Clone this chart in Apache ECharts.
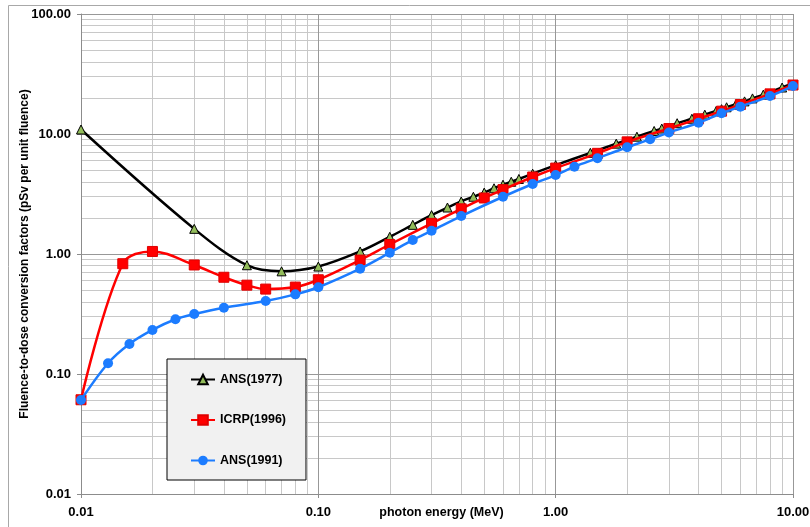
<!DOCTYPE html>
<html><head><meta charset="utf-8">
<script src="https://cdn.jsdelivr.net/npm/echarts@6/dist/echarts.min.js"></script>
<style>html,body{margin:0;padding:0;background:#fff}#c{width:810px;height:527px}</style>
</head><body><div id="c"></div>
<script>
// photon energy (MeV) and conversion factors (pSv per unit fluence)
const ans1977Energy = [0.01,0.03,0.05,0.07,0.1,0.15,0.2,0.25,0.3,0.35,0.4,0.45,0.5,0.55,0.6,0.65,0.7,0.8,1.0,1.4,1.8,2.2,2.6,2.8,3.25,3.75,4.25,4.75,5.0,5.25,5.75,6.25,6.75,7.5,9.0,11.0];
const ans1977Value  = [10.9,1.62,0.806,0.717,0.786,1.05,1.39,1.75,2.11,2.44,2.74,3.00,3.25,3.53,3.78,4.00,4.22,4.67,5.50,6.97,8.31,9.50,10.6,11.1,12.3,13.4,14.5,15.6,16.1,16.7,17.7,18.7,19.8,21.3,24.4,28.6];
const icrp1996Energy = [0.01,0.015,0.02,0.03,0.04,0.05,0.06,0.08,0.1,0.15,0.2,0.3,0.4,0.5,0.6,0.8,1,1.5,2,3,4,5,6,8,10];
const icrp1996Value  = [0.061,0.83,1.05,0.81,0.64,0.55,0.51,0.53,0.61,0.89,1.20,1.80,2.38,2.93,3.44,4.38,5.20,6.90,8.60,11.1,13.4,15.5,17.6,21.6,25.6];
const ans1991Energy = [0.01,0.013,0.016,0.02,0.025,0.03,0.04,0.06,0.08,0.1,0.15,0.2,0.25,0.3,0.4,0.6,0.8,1.0,1.2,1.5,2,2.5,3,4,5,6,8,10];
const ans1991Value  = [0.0607,0.123,0.178,0.233,0.286,0.316,0.357,0.406,0.461,0.528,0.754,1.025,1.31,1.56,2.07,3.0,3.83,4.55,5.34,6.28,7.75,9.03,10.3,12.4,14.9,16.9,20.7,25.1];
const seriesNames = ['ANS(1977)','ICRP(1996)','ANS(1991)'];
const xDecades = [0.01,0.1,1];
const yDecades = [0.01,0.1,1,10];
const minorMultipliers = [2,3,4,5,6,7,8,9];

const FONT = '"Liberation Sans", Arial, sans-serif';
const pair = (xs, ys) => xs.map((x, i) => [x, ys[i]]);
const xMinor = [], yMinor = [];
xDecades.forEach(d => minorMultipliers.forEach(m => xMinor.push(+(d*m).toPrecision(3))));
yDecades.forEach(d => minorMultipliers.forEach(m => yMinor.push(+(d*m).toPrecision(3))));

const chart = echarts.init(document.getElementById('c'), null, {renderer: 'canvas'});
chart.setOption({
  animation: false,
  backgroundColor: '#ffffff',
  textStyle: {fontFamily: FONT},
  graphic: [{
    type: 'rect', z: 0, silent: true,
    shape: {x: 8.5, y: 5.5, width: 840, height: 560},
    style: {fill: 'none', stroke: '#a8a8a8', lineWidth: 1}
  }],
  grid: {left: 81, right: 17, top: 14, bottom: 33, containLabel: false, outerBoundsMode: 'none'},
  legend: {
    data: seriesNames,
    orient: 'vertical',
    left: 167, top: 359,
    itemWidth: 24, itemHeight: 12, itemGap: 27.5,
    padding: [14, 20, 13, 23],
    backgroundColor: '#f1f1f1',
    borderColor: '#000000', borderWidth: 1,
    textStyle: {fontFamily: FONT, fontWeight: 'bold', fontSize: 12.5, color: '#000'},
    z: 20
  },
  xAxis: {
    type: 'log', logBase: 10, min: 0.01, max: 10, z: 2,
    name: 'photon energy (MeV)', nameLocation: 'middle', nameGap: 12, nameMoveOverlap: false,
    nameTextStyle: {fontFamily: FONT, fontWeight: 'bold', fontSize: 12.5, color: '#000', padding: [0,0,0,9]},
    axisLine: {show: true, lineStyle: {color: '#8c8c8c', width: 1}},
    axisTick: {show: true, inside: false, length: 4, lineStyle: {color: '#8c8c8c'}},
    axisLabel: {margin: 12, fontFamily: FONT, fontWeight: 'bold', fontSize: 13, color: '#000',
      formatter: v => Number(v).toFixed(2)},
    splitLine: {show: true, lineStyle: {color: '#989898', width: 1}}
  },
  yAxis: {
    type: 'log', logBase: 10, min: 0.01, max: 100, z: 2,
    name: 'Fluence-to-dose conversion factors (pSv per unit fluence)',
    nameLocation: 'middle', nameGap: 50, nameRotate: 90, nameMoveOverlap: false,
    nameTextStyle: {fontFamily: FONT, fontWeight: 'bold', fontSize: 12, color: '#000'},
    axisLine: {show: true, lineStyle: {color: '#8c8c8c', width: 1}},
    axisTick: {show: true, inside: false, length: 4, lineStyle: {color: '#8c8c8c'}},
    axisLabel: {margin: 10, fontFamily: FONT, fontWeight: 'bold', fontSize: 13, color: '#000',
      formatter: v => Number(v).toFixed(2)},
    splitLine: {show: true, lineStyle: {color: '#989898', width: 1}}
  },
  series: [
    {
      name: '_minorGrid', type: 'line', data: [], z: 1, silent: true,
      markLine: {
        z: 1, silent: true, symbol: ['none','none'], animation: false,
        label: {show: false},
        lineStyle: {color: '#c8c8c8', width: 1, type: 'solid'},
        emphasis: {disabled: true},
        data: xMinor.map(v => ({xAxis: v})).concat(yMinor.map(v => ({yAxis: v})))
      }
    },
    {
      name: seriesNames[0], type: 'line', z: 3, smooth: 0.35,
      data: pair(ans1977Energy, ans1977Value),
      symbol: 'triangle', symbolSize: 9,
      lineStyle: {color: '#000000', width: 2.5},
      itemStyle: {color: '#93bd5b', borderColor: '#000000', borderWidth: 1}
    },
    {
      name: seriesNames[1], type: 'line', z: 4, smooth: 0.35,
      data: pair(icrp1996Energy, icrp1996Value),
      symbol: 'rect', symbolSize: 10,
      lineStyle: {color: '#ff0000', width: 2.5},
      itemStyle: {color: '#ff0000', borderColor: '#e00000', borderWidth: 1}
    },
    {
      name: seriesNames[2], type: 'line', z: 5, smooth: 0.35,
      data: pair(ans1991Energy, ans1991Value),
      symbol: 'circle', symbolSize: 10,
      lineStyle: {color: '#1c7cff', width: 2.5},
      itemStyle: {color: '#1c7cff', borderColor: '#1c7cff', borderWidth: 0}
    }
  ]
});
</script>
</body></html>
